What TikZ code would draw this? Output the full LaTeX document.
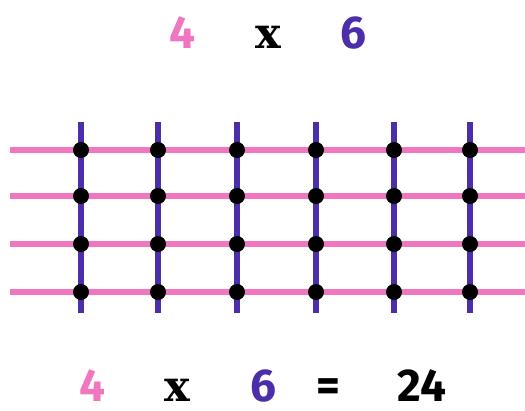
\documentclass[tikz,border=0pt]{standalone}
\usepackage{fontspec}
\newfontfamily\digfont{Fira Sans}
\newfontfamily\xfont{DejaVu Serif}
\definecolor{pinkc}{RGB}{240,118,192}
\definecolor{purplec}{RGB}{76,46,170}
\begin{document}
\begin{tikzpicture}[x=1pt,y=-1pt,
  hline/.style={pinkc,line width=6pt},
  vline/.style={purplec,line width=6.5pt},
  dotc/.style={circle,fill=black,inner sep=0pt,minimum size=16pt},
  dig/.style={font=\fontsize{46}{46}\selectfont\digfont\bfseries,inner sep=0pt,anchor=base},
  xs/.style={font=\fontsize{43}{43}\selectfont\xfont\bfseries,inner sep=0pt,anchor=base}]
\useasboundingbox (0,0) rectangle (525,410);
\foreach \r/\y in {1/150,2/196,3/244,4/292}{
  \coordinate (L\r) at (10,\y);
  \coordinate (R\r) at (525,\y);
  \draw[hline] (L\r) -- (R\r);
}
\foreach \c/\x in {1/81,2/158,3/237,4/316,5/394,6/470}{
  \coordinate (T\c) at (\x,122);
  \coordinate (B\c) at (\x,313);
  \draw[vline] (T\c) -- (B\c);
}
\foreach \c/\x in {1/81,2/158,3/237,4/316,5/394,6/470}{
  \foreach \r/\y in {1/150,2/196,3/244,4/292}{
    \node[dotc] (d\c\r) at (\x,\y) {};
  }
}
\node[dig,text=pinkc] (t4) at (182,48) {4};
\node[xs] (tx) at (268,48) {x};
\node[dig,text=purplec] (t6) at (353,48) {6};
\node[dig,text=pinkc] (b4) at (92,401) {4};
\node[xs] (bx) at (177,401) {x};
\node[dig,text=purplec] (b6) at (263,401) {6};
\node[dig] (beq) at (328,401) {=};
\node[dig] (b24) at (422,401) {24};
\end{tikzpicture}
\end{document}
